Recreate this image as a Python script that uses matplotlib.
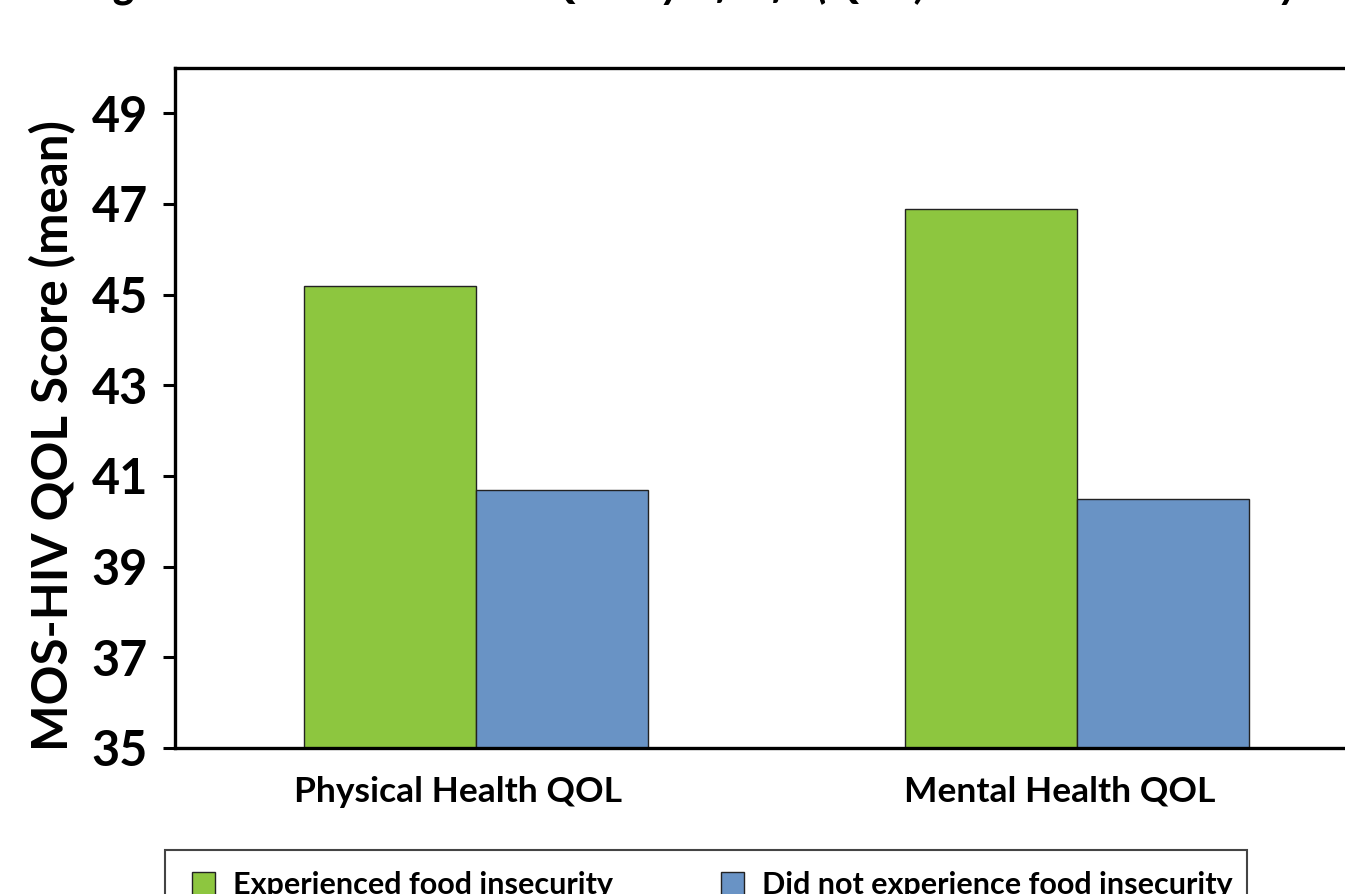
import matplotlib
matplotlib.use("Agg")
import matplotlib.pyplot as plt
import matplotlib.transforms as mtransforms
from matplotlib.patches import Rectangle
import numpy as np

categories = ["Physical Health QOL", "Mental Health QOL"]
series_names = ["Experienced food insecurity", "Did not experience food insecurity"]
experienced = [45.2, 46.9]
not_experienced = [40.7, 40.5]
yticks = [35, 37, 39, 41, 43, 45, 47, 49]
title = "Figure 3: Health-Related Quality of Life (QOL) and Food Insecurity"

green = "#8DC63F"
blue = "#6993C5"

plt.rcParams["font.family"] = ["Lato", "DejaVu Sans"]
plt.rcParams["font.weight"] = "bold"

W, H = 1345, 894
fig = plt.figure(figsize=(W / 100, H / 100), dpi=100)

# axes box runs past the right edge of the canvas
left, right, top, bottom = 175, 1378, 68, 748
ax = fig.add_axes([left / W, 1 - bottom / H, (right - left) / W, (bottom - top) / H])

x = np.arange(len(categories))
bw = 0.286
bars_a = ax.bar(x - bw / 2, experienced, bw, color=green, edgecolor="#222222",
                linewidth=1.0, label=series_names[0])
bars_b = ax.bar(x + bw / 2, not_experienced, bw, color=blue, edgecolor="#222222",
                linewidth=1.0, label=series_names[1])

ax.set_xlim(-0.5, 1.5)
ax.set_ylim(35, 50)
ax.set_yticks(yticks)
ax.set_yticklabels([str(v) for v in yticks], fontsize=35, fontweight="bold")
ax.set_xticks(x)
ax.set_xticklabels(categories, fontsize=25.5, fontweight="bold")
ax.tick_params(axis="x", length=0, pad=20)
ax.tick_params(axis="y", length=8.5, width=2.2, pad=11, direction="out")
shift = mtransforms.ScaledTranslation(-0.18, 0, fig.dpi_scale_trans)
for lbl in ax.get_xticklabels():
    lbl.set_transform(lbl.get_transform() + shift)
for s in ["left", "bottom", "top", "right"]:
    ax.spines[s].set_linewidth(2.4)
    ax.spines[s].set_color("black")

ax.set_ylabel("MOS-HIV QOL Score (mean)", fontsize=35.5, fontweight="bold")
ax.yaxis.set_label_coords((76 - left) / (right - left), (bottom - 436) / (bottom - top))

# title sits mostly above the canvas
fig.text(0.06, 1 + 1 / H, title, fontsize=31.5, fontweight="bold", fontstyle="italic",
         ha="left", va="baseline")

# legend: frame drawn as a rectangle, one entry per column
fig.patches.append(Rectangle((165 / W, -0.05), (1247 - 165) / W, 0.05 + (H - 850) / H,
                             transform=fig.transFigure, fill=False,
                             edgecolor="#444444", linewidth=1.5))
for bars, name, hx in [(bars_a, series_names[0], 192), (bars_b, series_names[1], 721)]:
    fig.legend([bars], [name], loc="upper left",
               bbox_to_anchor=(hx / W, 1 - 871 / H), frameon=False,
               prop={"weight": "bold", "size": 22},
               handlelength=0.75, handleheight=0.75, handletextpad=0.6,
               borderpad=0, borderaxespad=0)

fig.savefig("out.png", dpi=100)
